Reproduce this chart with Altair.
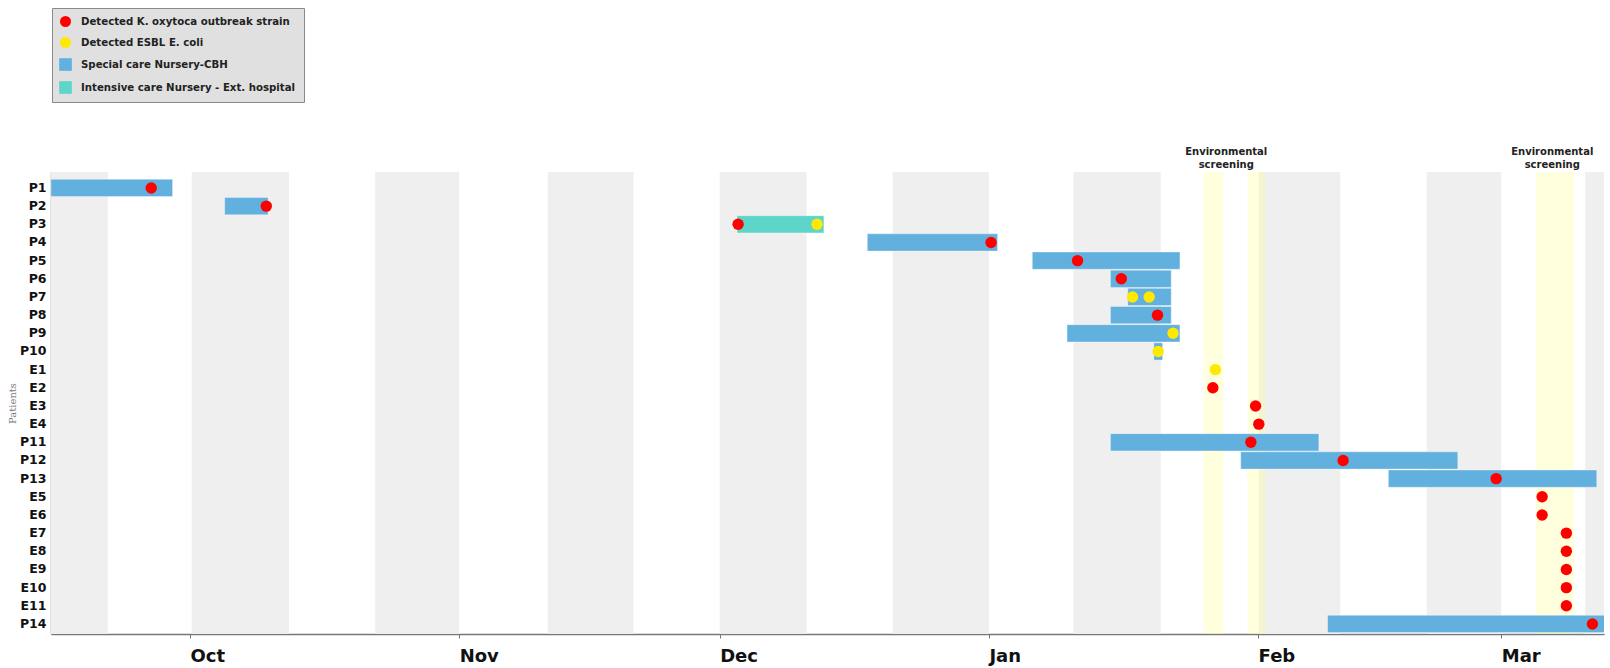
import altair as alt
import pandas as pd

# ---------------- data ----------------
ROWS = ["P1", "P2", "P3", "P4", "P5", "P6", "P7", "P8", "P9", "P10",
        "E1", "E2", "E3", "E4", "P11", "P12", "P13",
        "E5", "E6", "E7", "E8", "E9", "E10", "E11", "P14"]

KINDS = ["Detected K. oxytoca outbreak strain",
         "Detected ESBL E. coli",
         "Special care Nursery-CBH",
         "Intensive care Nursery - Ext. hospital"]
KIND_COLORS = ["#ff0000", "#ffe900", "#62b0de", "#5dd5c8"]
KIND_SHAPES = ["circle", "circle",
               "M-1.15,-1.15H1.15V1.15H-1.15Z",
               "M-1.15,-1.15H1.15V1.15H-1.15Z"]

SCBH = "Special care Nursery-CBH"
ICU = "Intensive care Nursery - Ext. hospital"
KO = "Detected K. oxytoca outbreak strain"
EC = "Detected ESBL E. coli"

stay_row = ["P1", "P2", "P3", "P4", "P5", "P6", "P7", "P8", "P9", "P10",
            "P11", "P12", "P13", "P14"]
stay_unit = [SCBH, SCBH, ICU, SCBH, SCBH, SCBH, SCBH, SCBH, SCBH, SCBH,
             SCBH, SCBH, SCBH, SCBH]
stay_start = ["2012-09-15T00:00", "2012-10-05T00:00", "2012-12-03T00:00",
              "2012-12-18T00:00", "2013-01-06T00:00", "2013-01-15T00:00",
              "2013-01-17T00:00", "2013-01-15T00:00", "2013-01-10T00:00",
              "2013-01-20T00:00", "2013-01-15T00:00", "2013-01-30T00:00",
              "2013-02-16T00:00", "2013-02-09T00:00"]
stay_end = ["2012-09-29T00:00", "2012-10-10T00:00", "2012-12-13T00:00",
            "2013-01-02T00:00", "2013-01-23T00:00", "2013-01-22T00:00",
            "2013-01-22T00:00", "2013-01-22T00:00", "2013-01-23T00:00",
            "2013-01-21T00:00", "2013-02-08T00:00", "2013-02-24T00:00",
            "2013-03-12T00:00", "2013-03-14T00:00"]

det_row = ["P1", "P2", "P3", "P3", "P4", "P5", "P6", "P7", "P7", "P8", "P9",
           "P10", "E1", "E2", "E3", "E4", "P11", "P12", "P13", "E5", "E6",
           "E7", "E8", "E9", "E10", "E11", "P14"]
det_kind = [KO, KO, KO, EC, KO, KO, KO, EC, EC, KO, EC,
            EC, EC, KO, KO, KO, KO, KO, KO, KO, KO,
            KO, KO, KO, KO, KO, KO]
det_date = ["2012-09-26T13:00", "2012-10-09T19:00", "2012-12-03T03:00",
            "2012-12-12T05:00", "2013-01-01T06:00", "2013-01-11T05:00",
            "2013-01-16T06:00", "2013-01-17T13:00", "2013-01-19T11:00",
            "2013-01-20T10:00", "2013-01-22T05:00", "2013-01-20T12:00",
            "2013-01-27T02:00", "2013-01-26T19:00", "2013-01-31T17:00",
            "2013-02-01T02:00", "2013-01-31T04:00", "2013-02-10T19:00",
            "2013-02-28T10:00", "2013-03-05T17:00", "2013-03-05T17:00",
            "2013-03-08T12:00", "2013-03-08T12:00", "2013-03-08T12:00",
            "2013-03-08T12:00", "2013-03-08T12:00", "2013-03-11T12:00"]

band_start = ["2012-09-15T00:00", "2012-10-01T05:00", "2012-10-22T08:00",
              "2012-11-11T05:00", "2012-12-01T00:00", "2012-12-20T22:00",
              "2013-01-10T18:00", "2013-02-01T02:00", "2013-02-20T10:00",
              "2013-03-10T16:00"]
band_end = ["2012-09-21T13:00", "2012-10-12T10:00", "2012-11-01T00:00",
            "2012-11-21T02:00", "2012-12-11T00:00", "2013-01-01T00:00",
            "2013-01-20T19:00", "2013-02-10T11:00", "2013-03-01T00:00",
            "2013-03-13T00:00"]

scr_start = ["2013-01-25T18:00", "2013-01-30T19:00", "2013-03-05T00:00"]
scr_end = ["2013-01-28T00:00", "2013-02-01T20:00", "2013-03-09T09:00"]

scr_label_date = ["2013-01-28T08:00", "2013-03-06T21:00"]
scr_label_text = ["Environmental\nscreening", "Environmental\nscreening"]

month_ticks = [(2012, 10), (2012, 11), (2012, 12), (2013, 1), (2013, 2), (2013, 3)]

# ---------------- tables ----------------
stays = pd.DataFrame({"row": stay_row, "kind": stay_unit,
                      "start": stay_start, "end": stay_end})
dets = pd.DataFrame({"row": det_row, "kind": det_kind, "date": det_date})
bands = pd.DataFrame({"start": band_start, "end": band_end})
scr = pd.DataFrame({"start": scr_start, "end": scr_end})
labels = pd.DataFrame({"date": scr_label_date, "text": scr_label_text})

FONT = "DejaVu Sans"
W, H = 1553, 462

xscale = alt.Scale(domain=[alt.DateTime(year=2012, month=9, date=15),
                           alt.DateTime(year=2013, month=3, date=12, hours=20)])
yscale = alt.Scale(domain=ROWS, paddingInner=0.05, paddingOuter=0.24, align=0.84)
cscale = alt.Scale(domain=KINDS, range=KIND_COLORS)
sscale = alt.Scale(domain=KINDS, range=KIND_SHAPES)

xaxis = alt.Axis(
    values=[alt.DateTime(year=y, month=m, date=1) for y, m in month_ticks],
    format="%b", grid=False,
    labelAlign="left", labelBaseline="top", labelFont=FONT, labelFontSize=18,
    labelFontWeight="bold", labelColor="#111", labelPadding=9,
    tickSize=4, tickColor="#777", domainColor="#777", domainWidth=1.5,
)
yaxis = alt.Axis(
    titleFont="DejaVu Serif", titleFontSize=10,
    titleFontWeight="normal", titleColor="#777", titlePadding=2,
    labelFont=FONT, labelFontSize=12.5, labelFontWeight="bold", labelColor="#111",
    ticks=False, labelPadding=5, domainColor="#888", domainWidth=1.5, grid=False,
)
legend = alt.Legend(
    orient="none", legendX=1, legendY=-164,
    fillColor="#e0e0e0", strokeColor="#8a8a8a",
    padding=8, rowPadding=10, symbolSize=121, symbolStrokeWidth=0,
    labelFont=FONT, labelFontSize=10.2, labelFontWeight="bold", labelColor="#222",
    labelOffset=10, labelLimit=500,
    labelExpr="datum.label + '" + "\u00a0" * 12 + "'",
)

X = lambda f: alt.X(f, type="temporal", scale=xscale, axis=xaxis, title=None)
Y = alt.Y("row:N", scale=yscale, axis=yaxis, sort=ROWS, title="Patients")

grey = alt.Chart(bands).mark_rect(color="#efefef", clip=True).encode(
    x=X("start"), x2="end:T",
)

yellow = alt.Chart(scr).mark_rect(color="#ffff99", opacity=0.33, clip=True).encode(
    x=X("start"), x2="end:T",
)

bars = alt.Chart(stays).mark_bar(clip=True, stroke="white", strokeOpacity=0.35,
                                 strokeWidth=1).encode(
    x=X("start"), x2="end:T", y=Y,
    color=alt.Color("kind:N", title=None, scale=cscale, legend=legend),
)

points = alt.Chart(dets).mark_point(filled=True, opacity=1, size=130, clip=True).encode(
    x=X("date"), y=Y,
    color=alt.Color("kind:N", title=None, scale=cscale, legend=legend),
    shape=alt.Shape("kind:N", title=None, scale=sscale, legend=legend),
)

text = alt.Chart(labels).mark_text(
    lineBreak="\n", font=FONT, fontSize=10, fontWeight="bold", color="#222",
    align="center", baseline="middle", lineHeight=12.5,
).encode(
    x=X("date"), y=alt.value(-20), text="text:N",
)

chart = alt.layer(grey, yellow, bars, points, text).properties(
    width=W, height=H,
    autosize=alt.AutoSizeParams(type="none"),
    padding={"left": 51, "top": 172, "right": 6, "bottom": 34},
).configure_view(strokeWidth=0)

chart.save("out.html", embed_options={"renderer": "svg", "actions": False})
